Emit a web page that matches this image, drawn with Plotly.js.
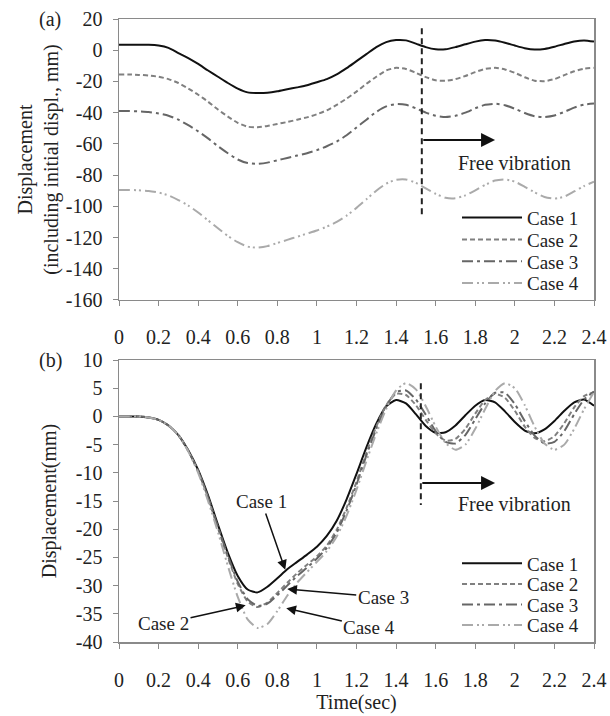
<!DOCTYPE html>
<html>
<head>
<meta charset="utf-8">
<script src="https://cdn.plot.ly/plotly-3.0.1.min.js"></script>
<style>html,body{margin:0;padding:0;background:#fff;}#chart{width:610px;height:716px;}</style>
</head>
<body>
<div id="chart"></div>
<script>
// ---- data ----
const time = [0,0.05,0.1,0.15,0.2,0.25,0.3,0.35,0.4,0.45,0.5,0.55,0.6,0.65,0.7,0.75,0.8,0.85,0.9,0.95,1.0,1.05,1.1,1.15,1.2,1.25,1.3,1.35,1.4,1.45,1.5,1.55,1.6,1.65,1.7,1.75,1.8,1.85,1.9,1.95,2.0,2.05,2.1,2.15,2.2,2.25,2.3,2.35,2.4];

// (a) displacement including initial displacement (mm)
const a_case1 = [3.5,3.5,3.5,3.5,3,1.5,-1.8,-5,-8.8,-13,-17,-21,-24.6,-27,-27.4,-27.2,-26.3,-25,-23.8,-22.5,-20.5,-18.5,-15.5,-11.5,-7,-2.5,2,5.2,6.5,6.3,4.2,2,0.6,0.6,2,3.8,5.5,6.5,6.2,4.8,3,1.3,0.4,0.8,2.2,4,5.6,6.3,5.5];
const a_case2 = [-15.5,-15.5,-15.8,-16.2,-17,-18.5,-21,-24.5,-28.5,-33,-38,-42.5,-46.5,-49,-49.3,-48.5,-47.2,-46,-44.5,-43,-41,-38.5,-35,-31,-26.5,-21.5,-17,-13,-11.3,-12,-14.5,-17.2,-19.3,-19.6,-18.5,-16.5,-14,-12,-11.3,-12.3,-14.5,-17.3,-19.5,-19.8,-18.5,-16,-13.5,-11.8,-11.3];
const a_case3 = [-39,-39,-39.2,-39.6,-40.5,-42,-44.5,-48,-52,-56.5,-61.5,-66,-70,-72.3,-72.8,-72,-70.5,-69,-67.5,-66,-64,-61.5,-58.5,-54.5,-49.5,-44.5,-39.5,-36,-34.5,-35,-37.2,-40,-42,-42.8,-42,-40,-37.2,-35,-34.3,-35.2,-37.5,-40.2,-42.3,-42.8,-41.8,-39.5,-36.8,-34.8,-34.2];
const a_case4 = [-89.5,-89.5,-89.7,-90.2,-91.2,-93,-96,-99.5,-104,-109,-114,-119,-123,-125.8,-126.5,-125.5,-123.5,-121.5,-119.5,-117.5,-115.5,-113,-110,-106,-101,-95.5,-90,-85.5,-83,-82.8,-85,-88.5,-92,-94.5,-94.8,-93,-89.8,-86.3,-83.5,-82.8,-84.2,-87.5,-91,-94,-95,-93.8,-90.5,-87,-84.2];

// (b) displacement (mm)
const b_case1 = [0,0,0,-0.2,-0.6,-1.6,-3.3,-6,-9.5,-14,-19.2,-24.2,-28.3,-30.7,-31.2,-30.2,-28.7,-27.1,-25.8,-24.5,-23.1,-21.2,-18.5,-14.7,-10.2,-5.5,-1.3,1.8,2.9,2.3,0.4,-1.7,-2.9,-2.8,-1.6,0.2,1.9,2.9,2.5,0.9,-1,-2.5,-3,-2.3,-0.8,1,2.5,3,1.9];
const b_case2 = [0,0,0,-0.2,-0.6,-1.6,-3.3,-6.1,-9.7,-14.4,-19.8,-25,-29.7,-32.8,-33.8,-33,-31.3,-29.5,-27.8,-26.3,-24.8,-22.9,-20.1,-16.2,-11.6,-6.4,-1.8,2,4,3.8,2,-0.6,-3,-4.3,-4,-2.2,0.5,2.9,4,3.3,1,-1.8,-3.8,-4.4,-3.5,-1.2,1.6,3.6,4.3];
const b_case3 = [0,0,0,-0.2,-0.6,-1.6,-3.3,-6.1,-9.7,-14.4,-19.6,-24.7,-29.3,-32.4,-33.6,-33.2,-31.7,-30,-28.3,-26.8,-25.2,-23.3,-20.6,-16.7,-12.1,-6.9,-2.2,1.8,4.3,4.6,3,0.3,-2.6,-4.5,-4.8,-3.3,-0.5,2.3,4.2,4.2,2.2,-0.8,-3.4,-4.8,-4.5,-2.6,0.4,3,4.4];
const b_case4 = [0,0,0,-0.2,-0.6,-1.6,-3.3,-6.2,-10,-15,-20.5,-26.5,-32,-36,-37.5,-36.8,-34.5,-31.8,-29.5,-27.6,-25.8,-23.9,-21.3,-17.6,-13,-7.9,-3,1.3,4.6,5.9,4.8,1.8,-1.8,-4.7,-5.9,-5,-2.2,1.3,4.5,5.9,5,2,-1.8,-4.8,-5.9,-5,-2.2,1.3,4.3];

const caseNames = ["Case 1","Case 2","Case 3","Case 4"];
const xTickVals = [0,0.2,0.4,0.6,0.8,1,1.2,1.4,1.6,1.8,2,2.2,2.4];
const xTickText = ["0","0.2","0.4","0.6","0.8","1","1.2","1.4","1.6","1.8","2","2.2","2.4"];
const yaTickVals = [20,0,-20,-40,-60,-80,-100,-120,-140,-160];
const yaTickText = ["20","0","-20","-40","-60","-80","-100","-120","-140","-160"];
const ybTickVals = [10,5,0,-5,-10,-15,-20,-25,-30,-35,-40];
const ybTickText = ["10","5","0","-5","-10","-15","-20","-25","-30","-35","-40"];
const freeVibStart = 1.53;

// ---- styles ----
const FONT = '"Liberation Serif","Times New Roman",serif';
const styles = [
  {color:'#111111', dash:'solid', width:2},
  {color:'#808080', dash:'5px,3px', width:2},
  {color:'#666666', dash:'11px,4px,3px,4px', width:2},
  {color:'#aaaaaa', dash:'11px,4px,2px,3px,2px,4px', width:2}
];
// legend row positions (paper fraction) for each panel
const legendRowsA = [0.681,0.646,0.611,0.576];
const legendRowsB = [0.126,0.093,0.060,0.027];
const legendX = 0.7116;

const aSeries = [a_case1,a_case2,a_case3,a_case4];
const bSeries = [b_case1,b_case2,b_case3,b_case4];
const traces = [];
const legendName = k => (k===1 ? 'legend' : 'legend'+k);
aSeries.forEach((ys,i)=>traces.push({x:time,y:ys,type:'scatter',mode:'lines',name:caseNames[i],
  xaxis:'x',yaxis:'y',legend:legendName(i+1),line:Object.assign({shape:'spline',smoothing:0.6},styles[i]),hoverinfo:'skip'}));
bSeries.forEach((ys,i)=>traces.push({x:time,y:ys,type:'scatter',mode:'lines',name:caseNames[i],
  xaxis:'x2',yaxis:'y2',legend:legendName(i+5),line:Object.assign({shape:'spline',smoothing:0.6},styles[i]),hoverinfo:'skip'}));

const axCommon = {showline:true, mirror:true, linecolor:'#8a8a8a', linewidth:1.5, ticks:'outside', ticklen:5,
  tickcolor:'#8a8a8a', showgrid:false, zeroline:false, tickfont:{family:FONT,size:20,color:'#222'}};

const layout = {
  width:610, height:716, margin:{l:119,r:16,t:19,b:74},
  paper_bgcolor:'#fff', plot_bgcolor:'#fff', font:{family:FONT,color:'#222',size:20},
  showlegend:true,
  xaxis:Object.assign({}, axCommon, {domain:[0,1], anchor:'y', range:[0,2.4], tickmode:'array', tickvals:xTickVals, ticktext:xTickText, ticklabelstandoff:14}),
  yaxis:Object.assign({}, axCommon, {domain:[0.549,1], anchor:'x', range:[-160,20], tickmode:'array', tickvals:yaTickVals, ticktext:yaTickText, ticklabelstandoff:6,
    title:{text:'Displacement<br>(including initial displ., mm)', font:{family:FONT,size:20,color:'#222'}, standoff:2}}),
  xaxis2:Object.assign({}, axCommon, {domain:[0,1], anchor:'y2', range:[0,2.4], tickmode:'array', tickvals:xTickVals, ticktext:xTickText, ticklabelstandoff:14,
    title:{text:'Time(sec)', font:{family:FONT,size:20,color:'#222'}, standoff:2}}),
  yaxis2:Object.assign({}, axCommon, {domain:[0,0.4526], anchor:'x2', range:[-40,10], tickmode:'array', tickvals:ybTickVals, ticktext:ybTickText, ticklabelstandoff:6,
    title:{text:'Displacement(mm)', font:{family:FONT,size:20,color:'#222'}, standoff:14}}),
  shapes:[
    {type:'line', xref:'x', yref:'y', x0:freeVibStart, x1:freeVibStart, y0:14, y1:-106, line:{color:'#222', width:2, dash:'6px,4px'}},
    {type:'line', xref:'x2', yref:'y2', x0:freeVibStart-0.005, x1:freeVibStart-0.005, y0:5.9, y1:-15.7, line:{color:'#222', width:2, dash:'6px,4px'}}
  ],
  annotations:[
    {xref:'paper', yref:'paper', x:-0.145, y:1.0, xanchor:'center', yanchor:'middle', text:'(a)', showarrow:false, font:{family:FONT,size:20,color:'#222'}},
    {xref:'paper', yref:'paper', x:-0.145, y:0.4526, xanchor:'center', yanchor:'middle', text:'(b)', showarrow:false, font:{family:FONT,size:20,color:'#222'}},
    {xref:'x', yref:'y', axref:'x', ayref:'y', x:1.90, y:-57.5, ax:freeVibStart, ay:-57.5, text:'', showarrow:true, arrowhead:2, arrowsize:1.4, arrowwidth:2, arrowcolor:'#111'},
    {xref:'x', yref:'y', x:2.0, y:-72, text:'Free vibration', showarrow:false, font:{family:FONT,size:20,color:'#222'}},
    {xref:'x2', yref:'y2', axref:'x2', ayref:'y2', x:1.90, y:-11.8, ax:freeVibStart-0.005, ay:-11.8, text:'', showarrow:true, arrowhead:2, arrowsize:1.4, arrowwidth:2, arrowcolor:'#111'},
    {xref:'x2', yref:'y2', x:2.0, y:-15.5, text:'Free vibration', showarrow:false, font:{family:FONT,size:20,color:'#222'}},
    {xref:'x2', yref:'y2', axref:'x2', ayref:'y2', x:0.84, y:-27.2, ax:0.72, ay:-15.1, text:'Case 1', showarrow:true, arrowhead:2, arrowsize:1.3, arrowwidth:1.5, arrowcolor:'#111', font:{family:FONT,size:19,color:'#222'}},
    {xref:'x2', yref:'y2', axref:'x2', ayref:'y2', x:0.85, y:-30.6, ax:1.335, ay:-32.1, text:'Case 3', showarrow:true, arrowhead:2, arrowsize:1.3, arrowwidth:1.5, arrowcolor:'#111', font:{family:FONT,size:19,color:'#222'}},
    {xref:'x2', yref:'y2', axref:'x2', ayref:'y2', x:0.64, y:-33.5, ax:0.225, ay:-36.8, text:'Case 2', showarrow:true, arrowhead:2, arrowsize:1.3, arrowwidth:1.5, arrowcolor:'#111', font:{family:FONT,size:19,color:'#222'}},
    {xref:'x2', yref:'y2', axref:'x2', ayref:'y2', x:0.845, y:-34, ax:1.265, ay:-37.4, text:'Case 4', showarrow:true, arrowhead:2, arrowsize:1.3, arrowwidth:1.5, arrowcolor:'#111', font:{family:FONT,size:19,color:'#222'}}
  ]
};
const legendBase = {x:legendX, xanchor:'left', yanchor:'middle', bgcolor:'rgba(0,0,0,0)', borderwidth:0,
  font:{family:FONT,size:19,color:'#222'}, tracegroupgap:0, itemwidth:60};
legendRowsA.forEach((yy,i)=>{ layout[legendName(i+1)] = Object.assign({}, legendBase, {y:yy}); });
legendRowsB.forEach((yy,i)=>{ layout[legendName(i+5)] = Object.assign({}, legendBase, {y:yy}); });

Plotly.newPlot('chart', traces, layout, {staticPlot:true, displayModeBar:false});
</script>
</body>
</html>
